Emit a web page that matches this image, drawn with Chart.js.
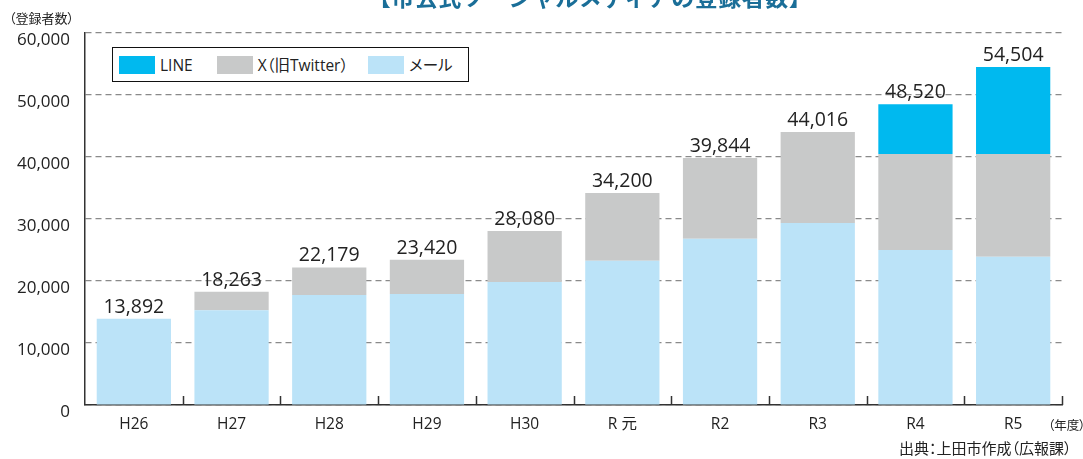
<!DOCTYPE html>
<html lang="ja">
  <head>
    <meta charset="UTF-8" />
    <title>市公式ソーシャルメディアの登録者数</title>
    <script src="https://cdn.jsdelivr.net/npm/chart.js"></script>
    <style>
      body {
        margin: 0;
        font-family: 'Open Sans', 'Noto Sans CJK JP', sans-serif;
        background: #fff;
      }
      #wrap {
        position: relative;
        width: 1083px;
        height: 459px;
        overflow: hidden;
      }
      #title {
        position: absolute;
        left: 0;
        width: 1180px;
        top: -15px;
        text-align: center;
        font: bold 23px/23px 'Noto Sans CJK JP', sans-serif;
        color: #1a6e98;
        letter-spacing: 0.5px;
      }
      .note {
        position: absolute;
        font-family: 'Noto Sans CJK JP', sans-serif;
        font-feature-settings: 'palt';
        color: #222;
        white-space: nowrap;
      }
      #legend {
        position: absolute;
        left: 112px;
        top: 47px;
        width: 355px;
        height: 33px;
        border: 1.5px solid #111;
        background: #fff;
        display: flex;
        align-items: center;
        font-family: 'Open Sans', 'Noto Sans CJK JP', sans-serif;
        font-feature-settings: 'palt';
        font-size: 15.5px;
        color: #222;
      }
      #legend span.item {
        display: flex;
        align-items: center;
      }
      #legend span.box {
        display: inline-block;
        width: 36px;
        height: 18px;
        margin-right: 5px;
      }
      canvas {
        position: absolute;
        left: 0;
        top: 0;
      }
    </style>
  </head>
  <body>
    <div id="wrap">
      <canvas id="regChart" width="1083" height="459"></canvas>
      <div id="title">【市公式ソーシャルメディアの登録者数】</div>
      <div class="note" style="left: 9px; top: 8px; font-size: 13px">（登録者数）</div>
      <div class="note" style="left: 1048px; top: 415px; font-size: 12.5px">（年度）</div>
      <div class="note" style="left: 899px; top: 437px; font-size: 15px">出典：上田市作成（広報課）</div>
      <div id="legend"></div>
    </div>

    <script>
      const years = ['H26', 'H27', 'H28', 'H29', 'H30', 'R 元', 'R2', 'R3', 'R4', 'R5']
      const totals = [13892, 18263, 22179, 23420, 28080, 34200, 39844, 44016, 48520, 54504]
      const mail = [13892, 15300, 17750, 17900, 19850, 23250, 26800, 29350, 25000, 23900]
      const xTwitter = [0, 2963, 4429, 5520, 8230, 10950, 13044, 14666, 15480, 16580]
      const line = [0, 0, 0, 0, 0, 0, 0, 0, 8040, 14024]

      const colMail = '#bbe3f8'
      const colX = '#c8c9c9'
      const colLine = '#00b9ef'

      // legend order is top-down (LINE, X, mail)
      const legendItems = [
        ['LINE', colLine],
        ['X（旧Twitter）', colX],
        ['メール', colMail],
      ]
      const legendEl = document.getElementById('legend')
      legendItems.forEach(([name, col], i) => {
        const item = document.createElement('span')
        item.className = 'item'
        item.style.marginLeft = i === 0 ? '6px' : i === 1 ? '24px' : '20px'
        item.innerHTML = '<span class="box" style="background:' + col + '"></span>' + name
        legendEl.appendChild(item)
      })

      const totalLabels = {
        id: 'totalLabels',
        afterDatasetsDraw(chart) {
          const ctx = chart.ctx
          const yScale = chart.scales.y
          const xScale = chart.scales.x
          ctx.save()
          ctx.font = '19.5px "Open Sans", sans-serif'
          ctx.fillStyle = '#222'
          ctx.textAlign = 'center'
          ctx.textBaseline = 'bottom'
          totals.forEach((t, i) => {
            const x = xScale.getPixelForValue(i)
            const y = yScale.getPixelForValue(t)
            ctx.fillText(t.toLocaleString('en-US'), x, y - 2)
          })
          ctx.restore()
        },
        afterDraw(chart) {
          // small inward tick marks between categories
          const ctx = chart.ctx
          const xScale = chart.scales.x
          const area = chart.chartArea
          const half = (xScale.getPixelForValue(1) - xScale.getPixelForValue(0)) / 2
          ctx.save()
          ctx.strokeStyle = '#333'
          ctx.lineWidth = 1.5
          ctx.beginPath()
          for (let i = 0; i < years.length; i++) {
            const x = Math.round(xScale.getPixelForValue(i) + half) + 0.5
            ctx.moveTo(x, area.bottom)
            ctx.lineTo(x, area.bottom - 9)
          }
          ctx.stroke()
          ctx.restore()
        },
      }

      new Chart(document.getElementById('regChart'), {
        type: 'bar',
        data: {
          labels: years,
          datasets: [
            { label: 'メール', data: mail, backgroundColor: colMail },
            { label: 'X（旧Twitter）', data: xTwitter, backgroundColor: colX },
            { label: 'LINE', data: line, backgroundColor: colLine },
          ],
        },
        options: {
          responsive: false,
          animation: false,
          layout: { padding: { top: 33, right: 21, left: 0, bottom: 0 } },
          datasets: {
            bar: { barPercentage: 0.76, categoryPercentage: 1.0, borderWidth: 0 },
          },
          plugins: {
            legend: { display: false },
            tooltip: { enabled: false },
          },
          scales: {
            x: {
              stacked: true,
              afterFit: (s) => { s.height = 54 },
              grid: { display: false, drawTicks: false },
              border: { display: true, color: '#333', width: 1.5 },
              ticks: {
                padding: 10,
                color: '#222',
                font: { size: 15.5, family: "'Open Sans', 'Noto Sans CJK JP', sans-serif" },
              },
            },
            y: {
              stacked: true,
              min: 0,
              max: 60000,
              afterFit: (s) => { s.width = 85 },
              grid: { color: '#8a8a8a', lineWidth: 1.2, drawTicks: false },
              border: { display: true, color: '#333', width: 1.5, dash: [6, 4] },
              ticks: {
                stepSize: 10000,
                padding: 15,
                labelOffset: 7,
                color: '#222',
                font: { size: 17, family: "'Open Sans', sans-serif" },
                callback: (v) => v.toLocaleString('en-US'),
              },
            },
          },
        },
        plugins: [totalLabels],
      })
    </script>
  </body>
</html>
